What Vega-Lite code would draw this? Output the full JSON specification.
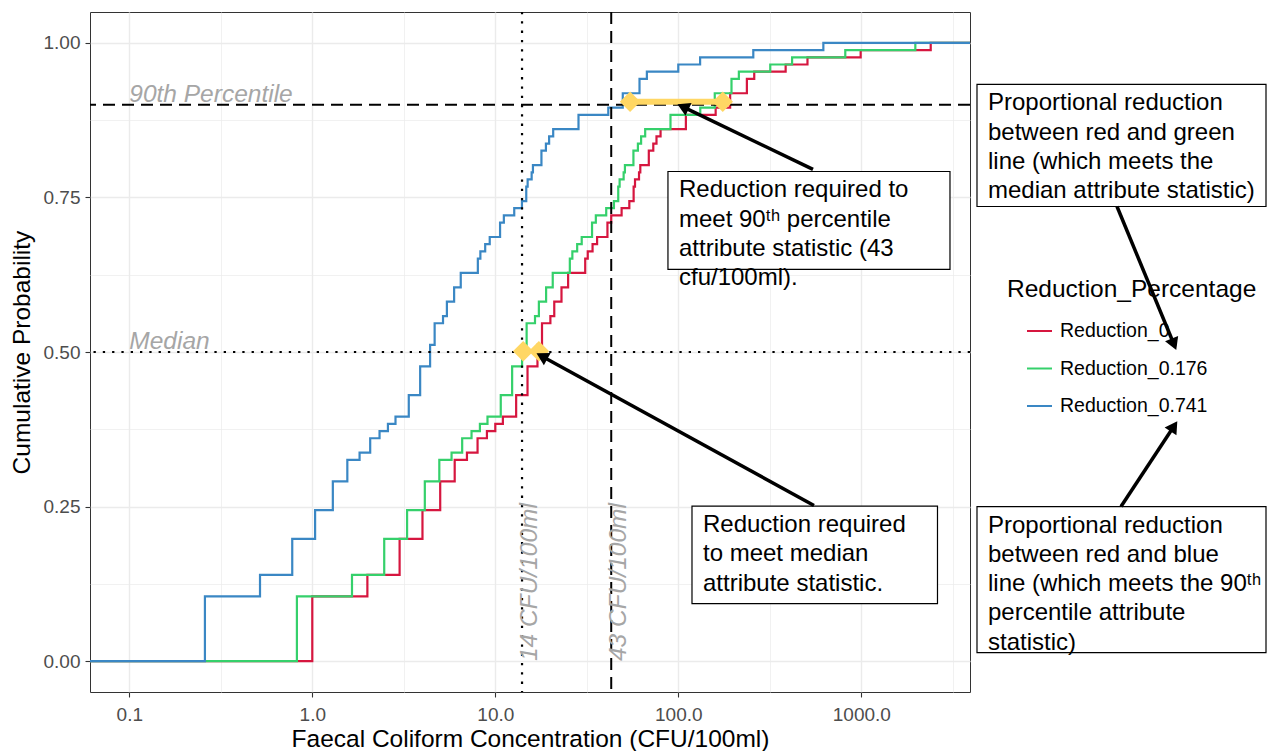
{
  "$schema": "https://vega.github.io/schema/vega-lite/v6.json",
  "width": 880,
  "height": 680,
  "autosize": {"type": "none"},
  "padding": {"left": 90, "top": 12, "right": 299, "bottom": 59},
  "background": "white",
  "config": {
    "font": "Liberation Sans",
    "view": {"stroke": "#333333", "strokeWidth": 1},
    "axis": {
      "domain": false,
      "gridColor": "#EBEBEB",
      "tickColor": "#333333",
      "tickWidth": 1.1,
      "tickSize": 5,
      "labelColor": "#4D4D4D",
      "labelFontSize": 19,
      "labelFont": "Liberation Sans",
      "titleFont": "Liberation Sans",
      "titleFontSize": 24.5,
      "titleFontWeight": "normal",
      "titleColor": "#000000"
    }
  },
  "datasets": {
    "ecdf": [
      {"s": "Reduction_0", "x": 0.061, "y": 0},
      {"s": "Reduction_0", "x": 1, "y": 0.1047},
      {"s": "Reduction_0", "x": 2, "y": 0.1395},
      {"s": "Reduction_0", "x": 3, "y": 0.1977},
      {"s": "Reduction_0", "x": 4, "y": 0.2442},
      {"s": "Reduction_0", "x": 5, "y": 0.2907},
      {"s": "Reduction_0", "x": 6, "y": 0.3256},
      {"s": "Reduction_0", "x": 7, "y": 0.3372},
      {"s": "Reduction_0", "x": 8, "y": 0.3605},
      {"s": "Reduction_0", "x": 9, "y": 0.3721},
      {"s": "Reduction_0", "x": 10, "y": 0.3837},
      {"s": "Reduction_0", "x": 11, "y": 0.3953},
      {"s": "Reduction_0", "x": 13, "y": 0.4302},
      {"s": "Reduction_0", "x": 15, "y": 0.4767},
      {"s": "Reduction_0", "x": 17, "y": 0.5116},
      {"s": "Reduction_0", "x": 18, "y": 0.5465},
      {"s": "Reduction_0", "x": 20, "y": 0.5581},
      {"s": "Reduction_0", "x": 21, "y": 0.5814},
      {"s": "Reduction_0", "x": 23, "y": 0.6047},
      {"s": "Reduction_0", "x": 25, "y": 0.6279},
      {"s": "Reduction_0", "x": 31, "y": 0.6512},
      {"s": "Reduction_0", "x": 32, "y": 0.6628},
      {"s": "Reduction_0", "x": 34, "y": 0.6744},
      {"s": "Reduction_0", "x": 36, "y": 0.686},
      {"s": "Reduction_0", "x": 41, "y": 0.7093},
      {"s": "Reduction_0", "x": 43, "y": 0.7209},
      {"s": "Reduction_0", "x": 49, "y": 0.7326},
      {"s": "Reduction_0", "x": 54, "y": 0.7442},
      {"s": "Reduction_0", "x": 57, "y": 0.7674},
      {"s": "Reduction_0", "x": 58, "y": 0.7791},
      {"s": "Reduction_0", "x": 61, "y": 0.7907},
      {"s": "Reduction_0", "x": 62, "y": 0.8023},
      {"s": "Reduction_0", "x": 69, "y": 0.8256},
      {"s": "Reduction_0", "x": 73, "y": 0.8372},
      {"s": "Reduction_0", "x": 76, "y": 0.8488},
      {"s": "Reduction_0", "x": 80, "y": 0.8605},
      {"s": "Reduction_0", "x": 110, "y": 0.8837},
      {"s": "Reduction_0", "x": 160, "y": 0.8953},
      {"s": "Reduction_0", "x": 192, "y": 0.9186},
      {"s": "Reduction_0", "x": 237, "y": 0.9419},
      {"s": "Reduction_0", "x": 260, "y": 0.9535},
      {"s": "Reduction_0", "x": 386, "y": 0.9651},
      {"s": "Reduction_0", "x": 508, "y": 0.9767},
      {"s": "Reduction_0", "x": 992, "y": 0.9884},
      {"s": "Reduction_0", "x": 2395, "y": 1},
      {"s": "Reduction_0", "x": 3926, "y": 1},

      {"s": "Reduction_0.176", "x": 0.061, "y": 0},
      {"s": "Reduction_0.176", "x": 0.824, "y": 0.1047},
      {"s": "Reduction_0.176", "x": 1.648, "y": 0.1395},
      {"s": "Reduction_0.176", "x": 2.472, "y": 0.1977},
      {"s": "Reduction_0.176", "x": 3.296, "y": 0.2442},
      {"s": "Reduction_0.176", "x": 4.12, "y": 0.2907},
      {"s": "Reduction_0.176", "x": 4.944, "y": 0.3256},
      {"s": "Reduction_0.176", "x": 5.768, "y": 0.3372},
      {"s": "Reduction_0.176", "x": 6.592, "y": 0.3605},
      {"s": "Reduction_0.176", "x": 7.416, "y": 0.3721},
      {"s": "Reduction_0.176", "x": 8.24, "y": 0.3837},
      {"s": "Reduction_0.176", "x": 9.064, "y": 0.3953},
      {"s": "Reduction_0.176", "x": 10.712, "y": 0.4302},
      {"s": "Reduction_0.176", "x": 12.36, "y": 0.4767},
      {"s": "Reduction_0.176", "x": 14.008, "y": 0.5116},
      {"s": "Reduction_0.176", "x": 14.832, "y": 0.5465},
      {"s": "Reduction_0.176", "x": 16.48, "y": 0.5581},
      {"s": "Reduction_0.176", "x": 17.304, "y": 0.5814},
      {"s": "Reduction_0.176", "x": 18.952, "y": 0.6047},
      {"s": "Reduction_0.176", "x": 20.6, "y": 0.6279},
      {"s": "Reduction_0.176", "x": 25.544, "y": 0.6512},
      {"s": "Reduction_0.176", "x": 26.368, "y": 0.6628},
      {"s": "Reduction_0.176", "x": 28.016, "y": 0.6744},
      {"s": "Reduction_0.176", "x": 29.664, "y": 0.686},
      {"s": "Reduction_0.176", "x": 33.784, "y": 0.7093},
      {"s": "Reduction_0.176", "x": 35.432, "y": 0.7209},
      {"s": "Reduction_0.176", "x": 40.376, "y": 0.7326},
      {"s": "Reduction_0.176", "x": 44.496, "y": 0.7442},
      {"s": "Reduction_0.176", "x": 46.968, "y": 0.7674},
      {"s": "Reduction_0.176", "x": 47.792, "y": 0.7791},
      {"s": "Reduction_0.176", "x": 50.264, "y": 0.7907},
      {"s": "Reduction_0.176", "x": 51.088, "y": 0.8023},
      {"s": "Reduction_0.176", "x": 56.856, "y": 0.8256},
      {"s": "Reduction_0.176", "x": 60.152, "y": 0.8372},
      {"s": "Reduction_0.176", "x": 62.624, "y": 0.8488},
      {"s": "Reduction_0.176", "x": 65.92, "y": 0.8605},
      {"s": "Reduction_0.176", "x": 90.64, "y": 0.8837},
      {"s": "Reduction_0.176", "x": 131.84, "y": 0.8953},
      {"s": "Reduction_0.176", "x": 158.208, "y": 0.9186},
      {"s": "Reduction_0.176", "x": 195.288, "y": 0.9419},
      {"s": "Reduction_0.176", "x": 214.24, "y": 0.9535},
      {"s": "Reduction_0.176", "x": 318.064, "y": 0.9651},
      {"s": "Reduction_0.176", "x": 418.592, "y": 0.9767},
      {"s": "Reduction_0.176", "x": 817.408, "y": 0.9884},
      {"s": "Reduction_0.176", "x": 1973.48, "y": 1},
      {"s": "Reduction_0.176", "x": 3926, "y": 1},

      {"s": "Reduction_0.741", "x": 0.061, "y": 0},
      {"s": "Reduction_0.741", "x": 0.259, "y": 0.1047},
      {"s": "Reduction_0.741", "x": 0.518, "y": 0.1395},
      {"s": "Reduction_0.741", "x": 0.777, "y": 0.1977},
      {"s": "Reduction_0.741", "x": 1.036, "y": 0.2442},
      {"s": "Reduction_0.741", "x": 1.295, "y": 0.2907},
      {"s": "Reduction_0.741", "x": 1.554, "y": 0.3256},
      {"s": "Reduction_0.741", "x": 1.813, "y": 0.3372},
      {"s": "Reduction_0.741", "x": 2.072, "y": 0.3605},
      {"s": "Reduction_0.741", "x": 2.331, "y": 0.3721},
      {"s": "Reduction_0.741", "x": 2.59, "y": 0.3837},
      {"s": "Reduction_0.741", "x": 2.849, "y": 0.3953},
      {"s": "Reduction_0.741", "x": 3.367, "y": 0.4302},
      {"s": "Reduction_0.741", "x": 3.885, "y": 0.4767},
      {"s": "Reduction_0.741", "x": 4.403, "y": 0.5116},
      {"s": "Reduction_0.741", "x": 4.662, "y": 0.5465},
      {"s": "Reduction_0.741", "x": 5.18, "y": 0.5581},
      {"s": "Reduction_0.741", "x": 5.439, "y": 0.5814},
      {"s": "Reduction_0.741", "x": 5.957, "y": 0.6047},
      {"s": "Reduction_0.741", "x": 6.475, "y": 0.6279},
      {"s": "Reduction_0.741", "x": 8.029, "y": 0.6512},
      {"s": "Reduction_0.741", "x": 8.288, "y": 0.6628},
      {"s": "Reduction_0.741", "x": 8.806, "y": 0.6744},
      {"s": "Reduction_0.741", "x": 9.324, "y": 0.686},
      {"s": "Reduction_0.741", "x": 10.619, "y": 0.7093},
      {"s": "Reduction_0.741", "x": 11.137, "y": 0.7209},
      {"s": "Reduction_0.741", "x": 12.691, "y": 0.7326},
      {"s": "Reduction_0.741", "x": 13.986, "y": 0.7442},
      {"s": "Reduction_0.741", "x": 14.763, "y": 0.7674},
      {"s": "Reduction_0.741", "x": 15.022, "y": 0.7791},
      {"s": "Reduction_0.741", "x": 15.799, "y": 0.7907},
      {"s": "Reduction_0.741", "x": 16.058, "y": 0.8023},
      {"s": "Reduction_0.741", "x": 17.871, "y": 0.8256},
      {"s": "Reduction_0.741", "x": 18.907, "y": 0.8372},
      {"s": "Reduction_0.741", "x": 19.684, "y": 0.8488},
      {"s": "Reduction_0.741", "x": 20.72, "y": 0.8605},
      {"s": "Reduction_0.741", "x": 28.49, "y": 0.8837},
      {"s": "Reduction_0.741", "x": 41.44, "y": 0.8953},
      {"s": "Reduction_0.741", "x": 49.728, "y": 0.9186},
      {"s": "Reduction_0.741", "x": 61.383, "y": 0.9419},
      {"s": "Reduction_0.741", "x": 67.34, "y": 0.9535},
      {"s": "Reduction_0.741", "x": 99.974, "y": 0.9651},
      {"s": "Reduction_0.741", "x": 131.572, "y": 0.9767},
      {"s": "Reduction_0.741", "x": 256.928, "y": 0.9884},
      {"s": "Reduction_0.741", "x": 620.305, "y": 1},
      {"s": "Reduction_0.741", "x": 3926, "y": 1}
    ],
    "boxes": [
      {"x": 87.8, "x2": 3052, "y": 0.792, "y2": 0.6335, "t": "Reduction required to\nmeet 90ᵗʰ percentile\nattribute statistic (43\ncfu/100ml)."},
      {"x": 118.8, "x2": 2608, "y": 0.2508, "y2": 0.093, "t": "Reduction required\nto meet median\nattribute statistic."},
      {"x": 4287, "x2": 162700, "y": 0.9328, "y2": 0.7354, "t": "Proportional reduction\nbetween red and green\nline (which meets the\nmedian attribute statistic)"},
      {"x": 4287, "x2": 162700, "y": 0.25, "y2": 0.0138, "t": "Proportional reduction\nbetween red and blue\nline (which meets the 90ᵗʰ\npercentile attribute\nstatistic)"}
    ]
  },
  "layer": [
    {
      "data": {"name": "ecdf"},
      "mark": {"type": "line", "interpolate": "step-after", "strokeWidth": 2.2},
      "encoding": {
        "x": {
          "field": "x", "type": "quantitative",
          "scale": {"type": "log", "domain": [0.061, 3926], "nice": false},
          "axis": {
            "title": "Faecal Coliform Concentration (CFU/100ml)",
            "values": [0.1, 0.31623, 1, 3.1623, 10, 31.623, 100, 316.23, 1000, 3162.3],
            "format": ".1f",
            "labelExpr": "indexof([0.1,1,10,100,1000], datum.value) >= 0 ? datum.label : ''",
            "gridWidth": {"condition": {"test": "indexof([0.1,1,10,100,1000], datum.value) >= 0", "value": 1.4}, "value": 0.7},
            "tickOpacity": {"condition": {"test": "indexof([0.1,1,10,100,1000], datum.value) >= 0", "value": 1}, "value": 0},
            "labelPadding": 8,
            "titlePadding": 3,
            "labelFlush": false,
            "labelOverlap": false
          }
        },
        "y": {
          "field": "y", "type": "quantitative",
          "scale": {"domain": [-0.05, 1.05], "nice": false, "zero": false},
          "axis": {
            "title": "Cumulative Probability",
            "values": [0, 0.125, 0.25, 0.375, 0.5, 0.625, 0.75, 0.875, 1],
            "format": ".2f",
            "labelExpr": "indexof([0,0.25,0.5,0.75,1], datum.value) >= 0 ? datum.label : ''",
            "gridWidth": {"condition": {"test": "indexof([0,0.25,0.5,0.75,1], datum.value) >= 0", "value": 1.4}, "value": 0.7},
            "tickOpacity": {"condition": {"test": "indexof([0,0.25,0.5,0.75,1], datum.value) >= 0", "value": 1}, "value": 0},
            "labelPadding": 5,
            "titlePadding": 9,
            "labelOverlap": false
          }
        },
        "color": {
          "field": "s", "type": "nominal",
          "scale": {"domain": ["Reduction_0", "Reduction_0.176", "Reduction_0.741"], "range": ["#D6163F", "#35D06B", "#3A87C4"]},
          "legend": {
            "title": "Reduction_Percentage",
            "orient": "none", "legendX": 917, "legendY": 266,
            "titleFontSize": 24.5, "titleFontWeight": "normal", "titleColor": "#000000", "titleFont": "Liberation Sans", "titleLimit": 600,
            "labelFontSize": 19.5, "labelColor": "#000000", "labelFont": "Liberation Sans", "labelLimit": 400,
            "symbolType": "stroke", "symbolSize": 625, "symbolStrokeWidth": 2,
            "symbolOffset": 19, "labelOffset": 7, "rowPadding": 14.5, "titlePadding": 15, "padding": 0
          }
        }
      }
    },
    {
      "data": {"values": [{"x": 14}]},
      "mark": {"type": "rule", "color": "black", "strokeWidth": 2.2, "strokeDash": [2.3, 7]},
      "encoding": {"x": {"field": "x", "type": "quantitative", "scale": {"type": "log", "domain": [0.061, 3926], "nice": false}}}
    },
    {
      "data": {"values": [{"x": 43}]},
      "mark": {"type": "rule", "color": "black", "strokeWidth": 2, "strokeDash": [12, 7]},
      "encoding": {"x": {"field": "x", "type": "quantitative", "scale": {"type": "log", "domain": [0.061, 3926], "nice": false}}}
    },
    {
      "data": {"values": [{"y": 0.5}]},
      "mark": {"type": "rule", "color": "black", "strokeWidth": 2.2, "strokeDash": [2.3, 7]},
      "encoding": {"y": {"field": "y", "type": "quantitative", "scale": {"domain": [-0.05, 1.05], "nice": false, "zero": false}}}
    },
    {
      "data": {"values": [{"y": 0.9}]},
      "mark": {"type": "rule", "color": "black", "strokeWidth": 2, "strokeDash": [12, 7]},
      "encoding": {"y": {"field": "y", "type": "quantitative", "scale": {"domain": [-0.05, 1.05], "nice": false, "zero": false}}}
    },
    {
      "data": {"values": [{"x": 54.5, "x2": 175, "y": 0.905}]},
      "mark": {"type": "rule", "color": "#FFD764", "strokeWidth": 6},
      "encoding": {
        "x": {"field": "x", "type": "quantitative", "scale": {"type": "log", "domain": [0.061, 3926], "nice": false}},
        "x2": {"field": "x2"},
        "y": {"field": "y", "type": "quantitative", "scale": {"domain": [-0.05, 1.05], "nice": false, "zero": false}}
      }
    },
    {
      "data": {"values": [{"x": 54.5, "y": 0.905}, {"x": 175, "y": 0.905}, {"x": 14.2, "y": 0.5013}, {"x": 17.3, "y": 0.5013}]},
      "mark": {"type": "point", "shape": "diamond", "filled": true, "color": "#FFD764", "size": 420, "opacity": 1},
      "encoding": {
        "x": {"field": "x", "type": "quantitative", "scale": {"type": "log", "domain": [0.061, 3926], "nice": false}},
        "y": {"field": "y", "type": "quantitative", "scale": {"domain": [-0.05, 1.05], "nice": false, "zero": false}}
      }
    },
    {
      "data": {"values": [{"x": 0.1, "y": 0.9, "t": "90th Percentile"}, {"x": 0.1, "y": 0.5, "t": "Median"}]},
      "mark": {"type": "text", "align": "left", "baseline": "alphabetic", "dy": -3, "fontSize": 24.5, "fontStyle": "italic", "color": "#A6A6A6", "font": "Liberation Sans"},
      "encoding": {
        "x": {"field": "x", "type": "quantitative", "scale": {"type": "log", "domain": [0.061, 3926], "nice": false}},
        "y": {"field": "y", "type": "quantitative", "scale": {"domain": [-0.05, 1.05], "nice": false, "zero": false}},
        "text": {"field": "t"}
      }
    },
    {
      "data": {"values": [{"x": 14, "y": 0, "t": "14 CFU/100ml"}, {"x": 43, "y": 0, "t": "43 CFU/100ml"}]},
      "mark": {"type": "text", "align": "left", "baseline": "middle", "angle": 270, "dy": 8, "fontSize": 24.5, "fontStyle": "italic", "color": "#A6A6A6", "font": "Liberation Sans"},
      "encoding": {
        "x": {"field": "x", "type": "quantitative", "scale": {"type": "log", "domain": [0.061, 3926], "nice": false}},
        "y": {"field": "y", "type": "quantitative", "scale": {"domain": [-0.05, 1.05], "nice": false, "zero": false}},
        "text": {"field": "t"}
      }
    },
    {
      "data": {"name": "boxes"},
      "mark": {"type": "rect", "fill": "white", "stroke": "black", "strokeWidth": 1.2},
      "encoding": {
        "x": {"field": "x", "type": "quantitative", "scale": {"type": "log", "domain": [0.061, 3926], "nice": false}},
        "x2": {"field": "x2"},
        "y": {"field": "y", "type": "quantitative", "scale": {"domain": [-0.05, 1.05], "nice": false, "zero": false}},
        "y2": {"field": "y2"}
      }
    },
    {
      "data": {"name": "boxes"},
      "mark": {"type": "text", "align": "left", "baseline": "top", "dx": 11, "dy": 7, "fontSize": 24, "lineHeight": 29.3, "lineBreak": "\n", "color": "black", "font": "Liberation Sans"},
      "encoding": {
        "x": {"field": "x", "type": "quantitative", "scale": {"type": "log", "domain": [0.061, 3926], "nice": false}},
        "y": {"field": "y", "type": "quantitative", "scale": {"domain": [-0.05, 1.05], "nice": false, "zero": false}},
        "text": {"field": "t"}
      }
    },
    {
      "data": {"values": [
        {"x": 544.6, "y": 0.7953, "x2": 106.1, "y2": 0.8966},
        {"x": 551.4, "y": 0.2516, "x2": 17.97, "y2": 0.4932},
        {"x": 24960, "y": 0.7354, "x2": 51080, "y2": 0.5125},
        {"x": 26250, "y": 0.25, "x2": 51080, "y2": 0.3799}
      ]},
      "mark": {"type": "rule", "color": "black", "strokeWidth": 3.5},
      "encoding": {
        "x": {"field": "x", "type": "quantitative", "scale": {"type": "log", "domain": [0.061, 3926], "nice": false}},
        "x2": {"field": "x2"},
        "y": {"field": "y", "type": "quantitative", "scale": {"domain": [-0.05, 1.05], "nice": false, "zero": false}},
        "y2": {"field": "y2"}
      }
    },
    {
      "data": {"values": [{"x": 106.1, "y": 0.8966}]},
      "mark": {"type": "point", "shape": "triangle-up", "filled": true, "color": "black", "opacity": 1, "size": 200, "angle": -64.3},
      "encoding": {
        "x": {"field": "x", "type": "quantitative", "scale": {"type": "log", "domain": [0.061, 3926], "nice": false}},
        "y": {"field": "y", "type": "quantitative", "scale": {"domain": [-0.05, 1.05], "nice": false, "zero": false}}
      }
    },
    {
      "data": {"values": [{"x": 17.97, "y": 0.4932}]},
      "mark": {"type": "point", "shape": "triangle-up", "filled": true, "color": "black", "opacity": 1, "size": 200, "angle": -61.3},
      "encoding": {
        "x": {"field": "x", "type": "quantitative", "scale": {"type": "log", "domain": [0.061, 3926], "nice": false}},
        "y": {"field": "y", "type": "quantitative", "scale": {"domain": [-0.05, 1.05], "nice": false, "zero": false}}
      }
    },
    {
      "data": {"values": [{"x": 51080, "y": 0.5125}]},
      "mark": {"type": "point", "shape": "triangle-up", "filled": true, "color": "black", "opacity": 1, "size": 200, "angle": 157.6},
      "encoding": {
        "x": {"field": "x", "type": "quantitative", "scale": {"type": "log", "domain": [0.061, 3926], "nice": false}},
        "y": {"field": "y", "type": "quantitative", "scale": {"domain": [-0.05, 1.05], "nice": false, "zero": false}}
      }
    },
    {
      "data": {"values": [{"x": 51080, "y": 0.3799}]},
      "mark": {"type": "point", "shape": "triangle-up", "filled": true, "color": "black", "opacity": 1, "size": 200, "angle": 33.4},
      "encoding": {
        "x": {"field": "x", "type": "quantitative", "scale": {"type": "log", "domain": [0.061, 3926], "nice": false}},
        "y": {"field": "y", "type": "quantitative", "scale": {"domain": [-0.05, 1.05], "nice": false, "zero": false}}
      }
    }
  ]
}
